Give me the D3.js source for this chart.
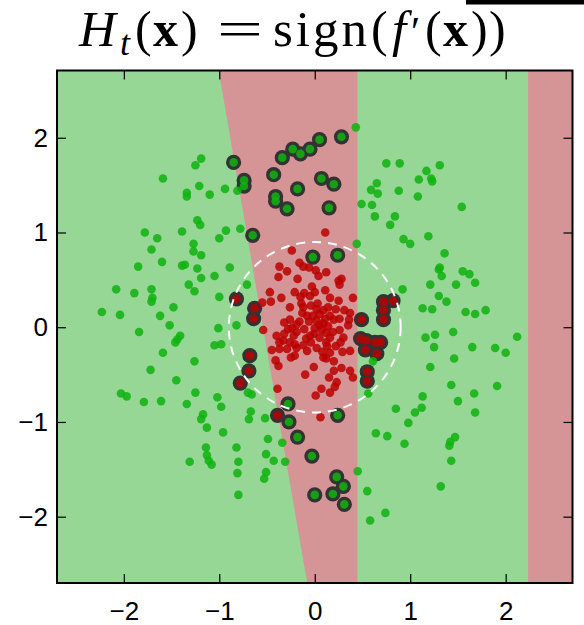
<!DOCTYPE html>
<html>
<head>
<meta charset="utf-8">
<script src="https://cdn.jsdelivr.net/npm/d3@7"></script>
<style>
  html, body { margin: 0; padding: 0; background: #ffffff; }
  svg { display: block; }
</style>
</head>
<body>
<svg id="chart" width="584" height="625"></svg>
<script>
// Training points of the "positive" (green) class, [x, y]
const greenPoints = [
  [-1.19,1.78],[-1.25,1.71],[-1.59,1.57],[-1.21,1.49],[-1.34,1.42],[-1.34,1.38],[-1.10,1.40],[-0.94,1.46],
  [-1.23,1.13],[-1.20,1.08],[-1.39,1.01],[-1.78,1.00],[-1.65,0.94],[-1.00,0.94],[-0.93,1.02],
  [0.43,2.11],[-0.81,1.44],[-0.78,1.04],[0.49,1.30],[0.60,1.29],[0.75,1.73],[0.89,1.73],[0.65,1.52],
  [0.59,1.45],[0.66,1.41],[0.88,1.44],[0.63,1.17],[0.84,1.17],[0.79,1.08],[0.44,0.88],
  [1.31,1.71],[1.17,1.65],[1.09,1.56],[1.22,1.57],[1.23,1.54],[1.08,1.38],[1.54,1.27],[0.93,0.93],
  [1.00,0.88],[1.19,0.96],
  [-1.71,0.82],[-1.27,0.88],[-1.27,0.80],[-1.19,0.76],[-1.60,0.69],[-1.85,0.64],[-1.39,0.65],[-1.36,0.66],
  [-1.23,0.62],[-1.19,0.52],[-1.05,0.54],[-0.89,0.63],[-1.32,0.45],[-1.26,0.38],[-2.08,0.40],[-1.89,0.36],
  [-1.71,0.40],[-1.70,0.31],[-1.71,0.27],[-1.00,0.32],[-1.48,0.21],[-2.23,0.16],[-2.04,0.13],[-1.62,0.12],
  [-1.52,0.02],[-1.01,-0.01],[-1.84,-0.05],[-1.41,-0.09],[-1.44,-0.13],[-1.46,-0.16],[-1.05,-0.19],[-0.98,-0.18],
  [-1.59,-0.27],[-1.26,-0.36],[-1.72,-0.45],[-1.45,-0.56],[-2.03,-0.70],[-1.97,-0.73],[-1.25,-0.69],[-1.79,-0.79],
  [-1.61,-0.78],[-1.34,-0.81],[-1.02,-0.74],[-0.98,-0.84],[-1.17,-0.92],
  [-0.71,0.45],[-0.82,0.02],[0.92,0.40],[0.61,-0.36],[0.56,-0.70],[0.85,-0.86],[-0.67,-0.89],[-0.70,-0.69],[-0.66,-0.71],
  [1.36,0.78],[1.31,0.63],[1.30,0.61],[1.33,0.54],[1.55,0.59],[1.62,0.56],[1.21,0.45],[1.48,0.45],[1.68,0.47],
  [1.30,0.33],[1.38,0.27],[1.13,0.20],[1.23,0.19],[1.58,0.16],[1.68,0.14],[1.79,0.18],[1.45,-0.05],[1.16,-0.11],
  [1.26,-0.08],[2.12,-0.10],[1.25,-0.21],[1.65,-0.21],[1.89,-0.22],[2.00,-0.27],[1.46,-0.33],[1.21,-0.42],
  [1.43,-0.61],[1.91,-0.62],[1.67,-0.70],[1.13,-0.73],[1.50,-0.78],[1.12,-0.85],[1.05,-0.90],[1.68,-0.90],
  [-1.19,-0.97],[-1.13,-1.06],[-0.96,-1.11],[-1.14,-1.27],[-1.13,-1.35],[-1.31,-1.42],[-1.11,-1.41],[-1.08,-1.45],
  [-0.69,-0.97],[-0.52,-0.96],[-0.82,-1.27],[-0.49,-1.18],[-0.34,-1.22],[-0.51,-1.34],[-0.43,-1.41],[-0.31,-1.42],
  [-0.80,-1.42],[-0.81,-1.54],[-0.51,-1.53],[-0.53,-1.60],[-0.80,-1.77],[0.45,-1.52],[0.55,-1.73],[0.74,-1.96],
  [0.58,-2.04],[0.64,-1.12],[0.76,-1.15],[0.94,-1.23],
  [0.98,-1.01],[1.47,-1.16],[1.42,-1.21],[1.41,-1.25],[1.43,-1.41],[1.32,-1.68]
];

// Training points of the "negative" (red) class, [x, y]
const redPoints = [
  [-0.24,0.81],[-0.37,0.64],[-0.38,0.53],[-0.29,0.59],[-0.16,0.68],[-0.12,0.64],[-0.06,0.63],[0.01,0.60],
  [0.12,0.58],[0.04,0.54],[-0.18,0.51],[-0.03,0.43],[0.11,0.39],[0.00,0.37],[0.25,0.49],[0.28,0.51],[0.26,0.45],
  [-0.47,0.37],[-0.55,0.26],[-0.46,0.27],[-0.35,0.31],[-0.21,0.37],[-0.11,0.36],[-0.15,0.32],[-0.26,0.21],
  [-0.05,0.33],[0.03,0.25],[0.16,0.31],[0.25,0.28],[0.40,0.31],[0.14,0.21],[0.22,0.19],[0.31,0.18],[0.37,0.15],
  [0.36,0.08],[0.35,0.02],[-0.12,0.21],[-0.13,0.15],[-0.04,0.23],[0.02,0.19],[-0.08,0.12],[-0.16,0.06],
  [-0.26,0.08],[-0.24,-0.01],[-0.28,-0.02],[-0.22,-0.09],[-0.40,-0.09],[-0.33,-0.14],[-0.32,-0.07],[-0.37,-0.16],
  [-0.45,-0.24],[-0.37,-0.23],[-0.29,-0.23],[-0.21,-0.18],[-0.19,-0.22],[-0.12,-0.19],[-0.09,-0.12],[-0.04,-0.16],
  [-0.01,-0.07],[0.05,0.02],[0.09,0.04],[0.14,0.01],[0.19,-0.05],[0.26,-0.03],[0.16,-0.11],[0.05,-0.11],
  [-0.08,-0.25],[0.02,-0.22],[0.13,-0.20],[0.08,-0.26],[0.16,-0.27],[0.22,-0.20],[0.27,-0.16],[0.29,-0.26],
  [0.37,-0.25],[0.09,-0.32],[-0.25,-0.32],[-0.21,-0.30],[-0.41,-0.35],[-0.38,-0.41],[-0.01,-0.42],[-0.10,-0.50],
  [0.12,-0.33],[0.20,-0.36],[0.20,-0.46],[0.28,-0.43],[0.37,-0.46],[0.40,-0.53],[0.15,-0.53],[0.01,-0.72],
  [0.07,-0.65],[0.16,-0.69],[0.21,-0.63],[0.23,-0.58],[-0.39,-0.65],[-0.54,-0.03],[-0.06,0.06],[0.00,-0.01],
  [0.12,-0.06],[-0.05,-0.09],[0.05,0.14],[-0.19,-0.05],[0.20,0.08],[0.11,0.09],[0.11,1.00],[0.06,-0.95],
  [-0.14,0.25],[-0.02,0.12],[0.09,0.18],[-0.11,-0.02],[0.02,0.07],[0.16,0.12],[0.26,0.09],[0.07,-0.03],
  [-0.26,-0.16],[-0.19,0.03],[-0.32,0.05],[0.30,-0.11],[0.12,-0.16]
];

// Points misclassified by the current combined classifier (ringed), [x, y, class]
const ringedPoints = [
  [0.28,2.01,"g"],[0.05,1.98,"g"],[-0.23,1.88,"g"],[-0.15,1.83,"g"],[-0.05,1.88,"g"],[-0.34,1.79,"g"],
  [-0.85,1.74,"g"],[-0.43,1.61,"g"],[-0.74,1.55,"g"],[-0.74,1.49,"g"],[-0.18,1.46,"g"],[0.07,1.57,"g"],
  [0.20,1.51,"g"],[-0.41,1.38,"g"],[-0.41,1.33,"g"],[-0.29,1.25,"g"],[0.15,1.26,"g"],[-0.65,0.97,"g"],
  [-0.02,0.74,"g"],[0.24,0.76,"g"],[-0.28,-0.81,"g"],[-0.27,-1.00,"g"],[0.24,-0.93,"g"],[-0.18,-1.16,"g"],
  [-0.03,-1.36,"g"],[0.23,-1.58,"g"],[0.30,-1.68,"g"],[0.00,-1.77,"g"],[0.19,-1.76,"g"],[0.31,-1.87,"g"],
  [-0.82,0.30,"r"],[-0.63,0.20,"r"],[-0.64,0.09,"r"],[0.72,0.27,"r"],[0.82,0.28,"r"],[0.72,0.18,"r"],
  [0.72,0.08,"r"],[0.49,0.08,"r"],[0.48,-0.12,"r"],[0.54,-0.14,"r"],[0.53,-0.24,"r"],[0.63,-0.16,"r"],
  [0.69,-0.16,"r"],[0.65,-0.28,"r"],[0.55,-0.47,"r"],[0.55,-0.57,"r"],[-0.68,-0.30,"r"],[-0.69,-0.46,"r"],
  [-0.78,-0.59,"r"],[-0.39,-0.93,"r"]
];

// Decision regions of sign(f'(x)): a slanted band x0 + slope*y < x < bandRight,
// plus a strip x > stripLeft, are classified negative.
const bandEdge = { x0: -0.542, slope: -0.1714 };
const bandRight = 0.447;
const stripLeft = 2.235;
// Dashed circle: true class boundary (radius)
const circleRadius = 0.9;

const xTicks = [-2, -1, 0, 1, 2];
const yTicks = [-2, -1, 0, 1, 2];
const domainX = [-2.7, 2.7];
const domainY = [-2.7, 2.71];

const COLORS = {
  bgPos: "#96d796",
  bgNeg: "#d59496",
  pos: "#0fb30f",
  neg: "#bb0000",
  ring: "#333333"
};

const svg = d3.select("#chart");
const plot = { left: 57, right: 572.5, top: 70.5, bottom: 583 };

const x = d3.scaleLinear().domain(domainX).range([plot.left, plot.right]);
const y = d3.scaleLinear().domain(domainY).range([plot.bottom, plot.top]);

svg.append("defs").append("clipPath").attr("id", "plotClip")
  .append("rect")
  .attr("x", plot.left).attr("y", plot.top)
  .attr("width", plot.right - plot.left).attr("height", plot.bottom - plot.top);

const area = svg.append("g").attr("clip-path", "url(#plotClip)");

// Positive background
area.append("rect")
  .attr("x", x(domainX[0])).attr("y", y(domainY[1]))
  .attr("width", x(domainX[1]) - x(domainX[0]))
  .attr("height", y(domainY[0]) - y(domainY[1]))
  .attr("fill", COLORS.bgPos);

// Negative band
const edgeX = yy => bandEdge.x0 + bandEdge.slope * yy;
const band = [
  [edgeX(domainY[1]), domainY[1]],
  [bandRight, domainY[1]],
  [bandRight, domainY[0]],
  [edgeX(domainY[0]), domainY[0]]
];
area.append("path")
  .attr("d", d3.line().x(d => x(d[0])).y(d => y(d[1]))(band) + "Z")
  .attr("fill", COLORS.bgNeg);

// Negative strip on the right
area.append("rect")
  .attr("x", x(stripLeft)).attr("y", y(domainY[1]))
  .attr("width", x(domainX[1]) - x(stripLeft))
  .attr("height", y(domainY[0]) - y(domainY[1]))
  .attr("fill", COLORS.bgNeg);

// Dark rings behind misclassified points
area.append("g").selectAll("circle")
  .data(ringedPoints).join("circle")
  .attr("cx", d => x(d[0])).attr("cy", d => y(d[1]))
  .attr("r", 7.6)
  .attr("fill", COLORS.ring);

// All points
const allPoints = greenPoints.map(d => [d[0], d[1], "g"])
  .concat(redPoints.map(d => [d[0], d[1], "r"]))
  .concat(ringedPoints);

area.append("g").selectAll("circle")
  .data(allPoints).join("circle")
  .attr("cx", d => x(d[0])).attr("cy", d => y(d[1]))
  .attr("r", 4.3)
  .attr("fill", d => d[2] === "g" ? COLORS.pos : COLORS.neg)
  .attr("fill-opacity", 0.85);

// Dashed circle
area.append("ellipse")
  .attr("cx", x(0)).attr("cy", y(0))
  .attr("rx", x(circleRadius) - x(0))
  .attr("ry", y(0) - y(circleRadius))
  .attr("fill", "none")
  .attr("stroke", "#ffffff")
  .attr("stroke-width", 2)
  .attr("stroke-dasharray", "9,7");

// Axes with inward ticks on all four sides
const tickLen = 9;
const fontTick = "'Liberation Sans', Arial, sans-serif";
const fmt = d => d3.format("d")(d).replace("-", "\u2212");

function styleAxis(g) {
  g.select(".domain").remove();
  g.selectAll(".tick line").attr("stroke", "#000").attr("stroke-width", 1.2);
}

svg.append("g").attr("transform", `translate(0,${plot.bottom})`)
  .call(d3.axisBottom(x).tickValues(xTicks).tickSize(-tickLen).tickPadding(18).tickFormat(fmt))
  .call(styleAxis)
  .call(g => g.selectAll("text").attr("font-family", fontTick).attr("font-size", 26)
    .attr("fill", "#000").attr("dy", "0.73em"));

svg.append("g").attr("transform", `translate(0,${plot.top})`)
  .call(d3.axisTop(x).tickValues(xTicks).tickSize(-tickLen).tickFormat(""))
  .call(styleAxis);

svg.append("g").attr("transform", `translate(${plot.left},0)`)
  .call(d3.axisLeft(y).tickValues(yTicks).tickSize(-tickLen).tickPadding(9).tickFormat(fmt))
  .call(styleAxis)
  .call(g => g.selectAll("text").attr("font-family", fontTick).attr("font-size", 26).attr("fill", "#000"));

svg.append("g").attr("transform", `translate(${plot.right},0)`)
  .call(d3.axisRight(y).tickValues(yTicks).tickSize(-tickLen).tickFormat(""))
  .call(styleAxis);

// Frame
svg.append("rect")
  .attr("x", plot.left).attr("y", plot.top)
  .attr("width", plot.right - plot.left).attr("height", plot.bottom - plot.top)
  .attr("fill", "none").attr("stroke", "#000").attr("stroke-width", 2);

// Frame edge of the neighbouring panel
svg.append("rect").attr("x", 466).attr("y", 0).attr("width", 118).attr("height", 4.5).attr("fill", "#000");

// Title: H_t(x) = sign(f'(x)), typeset in three runs
const fontTitle = "'Liberation Serif', 'DejaVu Serif', serif";
const titleBase = 46;

function mathRun(pieces) {
  const t = svg.append("text")
    .attr("y", titleBase)
    .attr("font-family", fontTitle)
    .attr("fill", "#000");
  pieces.forEach(p => {
    t.append("tspan")
      .attr("x", p.x)
      .attr("y", titleBase + (p.dy || 0))
      .attr("font-size", p.size)
      .attr("font-style", p.style || "normal")
      .attr("font-weight", p.weight || "normal")
      .attr("letter-spacing", p.ls || 0)
      .text(p.t);
  });
  return t;
}

mathRun([
  { t: "H", x: 79,  style: "italic", size: 51 },
  { t: "t", x: 120, style: "italic", size: 36, dy: 9 },
  { t: "(", x: 135, size: 50 },
  { t: "x", x: 153, weight: "bold", size: 50 },
  { t: ")", x: 181, size: 50 }
]);

svg.append("text")
  .attr("x", 217).attr("y", titleBase)
  .attr("font-family", fontTitle).attr("font-size", 50)
  .attr("textLength", 46).attr("lengthAdjust", "spacingAndGlyphs")
  .attr("fill", "#000")
  .text("=");

mathRun([
  { t: "sign", x: 273, size: 51, ls: 3 },
  { t: "(", x: 371, size: 50 },
  { t: "f", x: 392, style: "italic", size: 51 },
  { t: "\u2032", x: 411, size: 42 },
  { t: "(", x: 425, size: 50 },
  { t: "x", x: 443, weight: "bold", size: 50 },
  { t: ")", x: 471, size: 50 },
  { t: ")", x: 489, size: 50 }
]);
</script>
</body>
</html>
